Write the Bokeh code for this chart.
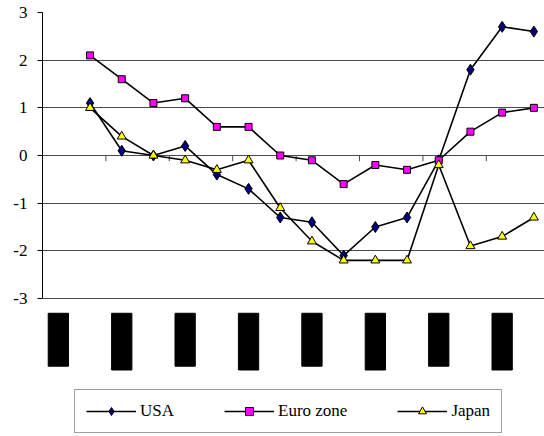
from bokeh.plotting import figure
from bokeh.models import Range1d, FixedTicker, Legend, LegendItem
from bokeh.embed import file_html
from bokeh.resources import INLINE

# ---- data ----
slots = list(range(16))            # category slots on the x axis (slot 0 is empty)
data_slots = slots[1:]
usa = [1.1, 0.1, 0.0, 0.2, -0.4, -0.7, -1.3, -1.4, -2.1, -1.5, -1.3, -0.1, 1.8, 2.7, 2.6]
euro = [2.1, 1.6, 1.1, 1.2, 0.6, 0.6, 0.0, -0.1, -0.6, -0.2, -0.3, -0.1, 0.5, 0.9, 1.0]
japan = [1.0, 0.4, 0.0, -0.1, -0.3, -0.1, -1.1, -1.8, -2.2, -2.2, -2.2, -0.2, -1.9, -1.7, -1.3]
y_ticks = [-3, -2, -1, 0, 1, 2, 3]
y_tick_labels = ["-3", "-2", "-1", "0", "1", "2", "3"]
label_slots = [0, 2, 4, 6, 8, 10, 12, 14]   # slots carrying a (blacked-out) category label

FONT = "Liberation Serif"

xs = [s + 0.5 for s in data_slots]

p = figure(width=544, height=436, output_backend="svg", toolbar_location=None,
           x_range=Range1d(0, 15.836), y_range=Range1d(-5.895, 3),
           x_axis_location=None, min_border_left=42, min_border_right=0,
           min_border_top=12, min_border_bottom=0, outline_line_color=None,
           background_fill_color="white", border_fill_color="white")

ticker = FixedTicker(ticks=y_ticks)
ax = p.yaxis[0]
ax.ticker = ticker
ax.bounds = (-3, 3)
ax.major_label_overrides = {t: l for t, l in zip(y_ticks, y_tick_labels)}
ax.axis_line_color = "black"
ax.axis_line_width = 1
ax.major_tick_in = 0
ax.major_tick_out = 5
ax.major_tick_line_color = "black"
ax.minor_tick_line_color = None
ax.major_label_standoff = 10
ax.major_label_text_font = FONT
ax.major_label_text_font_size = "17px"
ax.major_label_text_color = "black"

p.xgrid.visible = False
p.ygrid.ticker = ticker
p.ygrid.grid_line_color = "#4a4a4a"
p.ygrid.grid_line_width = 1

# category tick marks on the zero line (every second category boundary)
bounds = [s for s in slots[2::2]]
p.segment(x0=bounds, x1=bounds, y0=[0] * len(bounds), y1=[-0.12] * len(bounds),
          line_color="#4a4a4a", line_width=1)

# blacked-out rotated category labels
lefts = [s + 0.5 - 0.32 for s in label_slots]
rights = [s + 0.5 + 0.32 for s in label_slots]
tops = [-3.31] * len(label_slots)
bottoms = [-4.42 if k % 2 == 0 else -4.5 for k in range(len(label_slots))]
p.quad(left=lefts, right=rights, top=tops, bottom=bottoms,
       fill_color="black", line_color="black")

l1 = p.line(xs, usa, line_color="black", line_width=1.6)
s1 = p.scatter(xs, usa, marker="diamond", size=11, fill_color="#000080", line_color="black")
l2 = p.line(xs, euro, line_color="black", line_width=1.6)
s2 = p.scatter(xs, euro, marker="square", size=7, fill_color="#FF00FF", line_color="black")
l3 = p.line(xs, japan, line_color="black", line_width=1.6)
s3 = p.scatter(xs, japan, marker="triangle", size=9, fill_color="#FFFF00", line_color="black")

legend = Legend(items=[LegendItem(label="USA", renderers=[l1, s1]),
                       LegendItem(label="Euro zone", renderers=[l2, s2]),
                       LegendItem(label="Japan", renderers=[l3, s3])],
                orientation="horizontal", location=(32, 3),
                glyph_width=50, glyph_height=20, label_standoff=4, spacing=50,
                padding=11, margin=0, label_height=20,
                label_text_font=FONT, label_text_font_size="17px",
                label_text_color="black",
                border_line_color="#404040", border_line_width=1,
                background_fill_color="white", background_fill_alpha=1)
p.add_layout(legend)

open("out.html", "w").write(file_html(p, INLINE))
